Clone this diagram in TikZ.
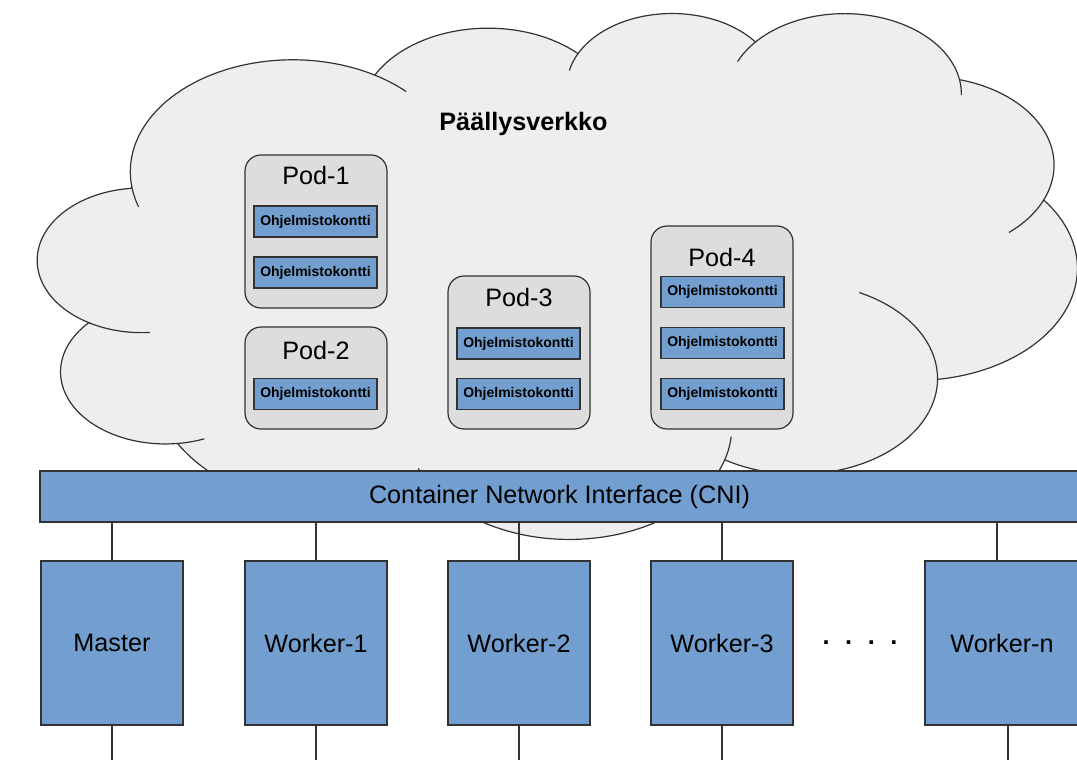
\documentclass[tikz,border=0pt]{standalone}
\usepackage{fontspec}
\setmainfont{Liberation Sans}

\definecolor{nodeblue}{HTML}{729FCF}
\definecolor{podgrey}{HTML}{DDDDDD}
\definecolor{cloudgrey}{HTML}{EEEEEE}
\definecolor{edge}{HTML}{333333}

% One lobe of the cloud outline: elliptic arc with radii #2,#3, visual start
% angle #4 and sweep #5, continuing from the current point (\curx,\cury).
\newcommand\lobe[5]{%
  \pgfmathsetmacro\lobeta{atan2((#2)*sin(#4),(#3)*cos(#4))}%
  \pgfmathsetmacro\lobetb{atan2((#2)*sin(#4+#5),(#3)*cos(#4+#5))}%
  \pgfmathsetmacro\lobetb{\lobetb<\lobeta ? \lobetb+360 : \lobetb}%
  \pgfmathsetmacro\lobecx{\curx-(#2)*cos(\lobeta)}%
  \pgfmathsetmacro\lobecy{\cury-(#3)*sin(\lobeta)}%
  \expandafter\let\csname cx#1\endcsname\lobecx
  \expandafter\let\csname cy#1\endcsname\lobecy
  \expandafter\let\csname ta#1\endcsname\lobeta
  \expandafter\let\csname tb#1\endcsname\lobetb
  \expandafter\def\csname a#1\endcsname{#2}%
  \expandafter\def\csname b#1\endcsname{#3}%
  \pgfmathsetmacro\curx{\lobecx+(#2)*cos(\lobetb)}%
  \pgfmathsetmacro\cury{\lobecy+(#3)*sin(\lobetb)}%
}

% Short inner stroke continuing lobe #1 between visual angles #2 and #3.
\newcommand\crease[3]{%
  \expandafter\let\expandafter\cra\csname a#1\endcsname
  \expandafter\let\expandafter\crb\csname b#1\endcsname
  \expandafter\let\expandafter\crx\csname cx#1\endcsname
  \expandafter\let\expandafter\cry\csname cy#1\endcsname
  \pgfmathsetmacro\crta{atan2(\cra*sin(#2),\crb*cos(#2))}%
  \pgfmathsetmacro\crtb{atan2(\cra*sin(#3),\crb*cos(#3))}%
  \pgfmathsetmacro\crtb{\crtb<\crta ? \crtb+360 : \crtb}%
  \draw[cloudline] plot[domain=\crta:\crtb, samples=20, variable=\t]
    ({\crx+\cra*cos(\t)},{\cry+\crb*sin(\t)});%
}

\tikzset{
  cloudline/.style={draw=edge, line width=0.6pt},
  podbox/.style={draw=edge, fill=podgrey, line width=0.6pt, rounded corners=8pt,
    minimum width=71pt, inner sep=0pt},
  podlabel/.style={font=\fontsize{12.6}{15}\selectfont, inner sep=0pt},
  kontti/.style={draw=edge, fill=nodeblue, line width=0.6pt, minimum width=61.5pt,
    minimum height=15.5pt, inner sep=0pt, font=\bfseries\fontsize{7}{8}\selectfont},
  host/.style={draw=edge, fill=nodeblue, line width=0.6pt, minimum width=71pt,
    minimum height=82pt, inner sep=0pt, font=\fontsize{12.6}{15}\selectfont},
  link/.style={draw=edge, line width=0.6pt},
}

\begin{document}
\begin{tikzpicture}[x=0.5pt, y=-0.5pt]
\useasboundingbox (0,0) rectangle (1077,760);
\clip (0,0) rectangle (1077,760);

% ---------- overlay network cloud ----------
\begin{scope}[shift={(19pt,-5.9pt)}, x=12.025pt, y=-6.085pt]
  \def\curx{3.9}\def\cury{14.37}
  \lobe{A}{6.753}{9.190}{-190.4875}{123.7805}
  \lobe{B}{5.333}{7.267}{-144.1024}{89.9452}
  \lobe{C}{4.365}{5.945}{-145.8079}{99.7230}
  \lobe{D}{4.857}{6.595}{-130.9861}{117.2417}
  \lobe{E}{5.333}{7.273}{-78.7089}{109.0269}
  \lobe{F}{6.775}{9.220}{-46.2673}{130.2690}
  \lobe{G}{5.785}{7.867}{0.6250}{114.0333}
  \lobe{H}{6.752}{9.215}{22.4516}{115.1726}
  \lobe{I}{7.720}{10.543}{66.2426}{75.7110}
  \lobe{J}{4.360}{5.918}{-274.9421}{146.7356}
  \lobe{K}{4.345}{5.945}{-246.8285}{152.5189}
  \filldraw[fill=cloudgrey, cloudline]
       plot[domain=\taA:\tbA, samples=50, variable=\t] ({\cxA+\aA*cos(\t)},{\cyA+\bA*sin(\t)})
    -- plot[domain=\taB:\tbB, samples=50, variable=\t] ({\cxB+\aB*cos(\t)},{\cyB+\bB*sin(\t)})
    -- plot[domain=\taC:\tbC, samples=50, variable=\t] ({\cxC+\aC*cos(\t)},{\cyC+\bC*sin(\t)})
    -- plot[domain=\taD:\tbD, samples=50, variable=\t] ({\cxD+\aD*cos(\t)},{\cyD+\bD*sin(\t)})
    -- plot[domain=\taE:\tbE, samples=50, variable=\t] ({\cxE+\aE*cos(\t)},{\cyE+\bE*sin(\t)})
    -- plot[domain=\taF:\tbF, samples=50, variable=\t] ({\cxF+\aF*cos(\t)},{\cyF+\bF*sin(\t)})
    -- plot[domain=\taG:\tbG, samples=50, variable=\t] ({\cxG+\aG*cos(\t)},{\cyG+\bG*sin(\t)})
    -- plot[domain=\taH:\tbH, samples=50, variable=\t] ({\cxH+\aH*cos(\t)},{\cyH+\bH*sin(\t)})
    -- plot[domain=\taI:\tbI, samples=50, variable=\t] ({\cxI+\aI*cos(\t)},{\cyI+\bI*sin(\t)})
    -- plot[domain=\taJ:\tbJ, samples=50, variable=\t] ({\cxJ+\aJ*cos(\t)},{\cyJ+\bJ*sin(\t)})
    -- plot[domain=\taK:\tbK, samples=50, variable=\t] ({\cxK+\aK*cos(\t)},{\cyK+\bK*sin(\t)})
    -- cycle;
  \crease{A}{155.65}{169.51}
  \crease{A}{-66.707}{-54.39}
  \crease{C}{-163.494}{-145.808}
  \crease{D}{-149.181}{-130.986}
  \crease{D}{-13.744}{1.114}
  \crease{E}{30.318}{58.07}
  \crease{G}{-70.29}{0.625}
  \crease{H}{6.453}{22.452}
  \crease{H}{137.624}{151.705}
  \crease{J}{73.61}{85.058}
  \crease{K}{86.742}{113.17}
\end{scope}

\node[font=\bfseries\fontsize{12.6}{15}\selectfont, inner sep=0pt] (overlay) at (523.5,124) {Päällysverkko};

% ---------- pods ----------
\node[podbox, minimum height=76.5pt] (pod1) at (316,231.5) {};
\node[podlabel] (pod1t) at (316,175) {Pod-1};
\node[kontti] (k11) at (315.5,221.5) {Ohjelmistokontti};
\node[kontti] (k12) at (315.5,272.5) {Ohjelmistokontti};

\node[podbox, minimum height=51pt] (pod2) at (316,378) {};
\node[podlabel] (pod2t) at (316,350) {Pod-2};
\node[kontti] (k21) at (315.5,394) {Ohjelmistokontti};

\node[podbox, minimum height=76.5pt] (pod3) at (519,352.5) {};
\node[podlabel] (pod3t) at (519,297) {Pod-3};
\node[kontti] (k31) at (518.5,343.5) {Ohjelmistokontti};
\node[kontti] (k32) at (518.5,394) {Ohjelmistokontti};

\node[podbox, minimum height=101.5pt] (pod4) at (722,327.5) {};
\node[podlabel] (pod4t) at (722,257) {Pod-4};
\node[kontti] (k41) at (722.5,292) {Ohjelmistokontti};
\node[kontti] (k42) at (722.5,343) {Ohjelmistokontti};
\node[kontti] (k43) at (722.5,394) {Ohjelmistokontti};

% ---------- container network interface ----------
\node[draw=edge, fill=nodeblue, line width=0.6pt, minimum width=519.5pt,
  minimum height=25.5pt, inner sep=0pt, font=\fontsize{12.6}{15}\selectfont]
  (cni) at (559.5,496.5) {Container Network Interface (CNI)};

% ---------- cluster nodes ----------
\node[host] (master) at (112,643) {Master};
\node[host] (w1) at (316,643) {Worker-1};
\node[host] (w2) at (519,643) {Worker-2};
\node[host] (w3) at (722,643) {Worker-3};
\node[host, minimum width=77pt] (wn) at (1002,643) {Worker-n};
\node[font=\bfseries\fontsize{12.6}{15}\selectfont, inner sep=0pt] (dots) at (860,643)
  {.\hspace{7.8pt}.\hspace{7.8pt}.\hspace{7.8pt}.};

\coordinate (floor) at (0,765);

\foreach \h in {master,w1,w2,w3}{
  \draw[link] (\h.north) -- (\h.north |- cni.south);
  \draw[link] (\h.south) -- (\h.south |- floor);
}
\draw[link] ([xshift=-2.5pt]wn.north) -- ([xshift=-2.5pt]wn.north |- cni.south);
\draw[link] ([xshift=3pt]wn.south) -- ([xshift=3pt]wn.south |- floor);
\end{tikzpicture}
\end{document}
